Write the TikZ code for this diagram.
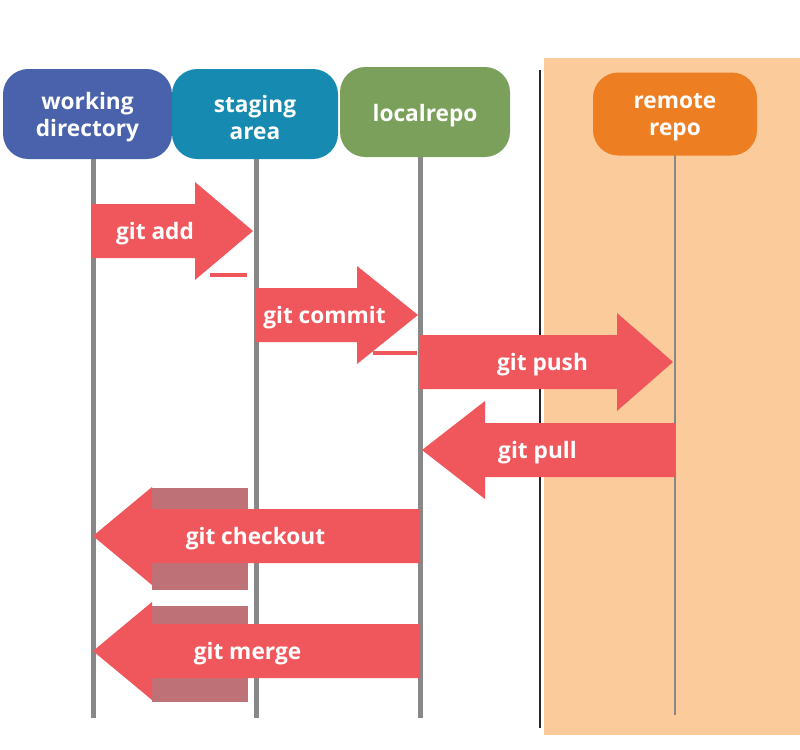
\documentclass[tikz,border=0pt]{standalone}
\usepackage{fontspec}
\setmainfont{Open Sans}
\usetikzlibrary{calc}

\definecolor{wdblue}{RGB}{74,98,172}
\definecolor{sablue}{RGB}{22,138,176}
\definecolor{lrgreen}{RGB}{123,160,91}
\definecolor{rrorange}{RGB}{238,126,34}
\definecolor{peach}{RGB}{251,203,156}
\definecolor{gitred}{RGB}{240,87,93}
\definecolor{fadered}{RGB}{190,114,120}
\definecolor{lifegray}{RGB}{136,136,136}

% block arrow: #1 tail, #2 tip, #3 head base offset from tip, #4 label, #5 label shift
\newcommand{\gitarrow}[5]{%
  \fill[garrow] ($(#1)+(0,-27)$) -- ($(#2)+(#3,-27)$) -- ($(#2)+(#3,-49)$) -- (#2)
    -- ($(#2)+(#3,49)$) -- ($(#2)+(#3,27)$) -- ($(#1)+(0,27)$) -- cycle;
  \node[glabel] at ($(#1)!0.5!(#2)+(#5,3)$) {#4};
}

\begin{document}
\begin{tikzpicture}[
    x=0.75pt, y=-0.75pt,
    box/.style={rounded corners=19pt, minimum height=67.5pt, inner sep=2pt},
    boxtext/.style={text=white, align=center, yshift=-2.5pt,
      font=\bfseries\fontsize{17}{20.5}\selectfont},
    life/.style={lifegray, line width=3.75pt},
    thinlife/.style={lifegray, line width=1.5pt},
    garrow/.style={fill=gitred},
    glabel/.style={text=white, font=\bfseries\fontsize{17}{20.5}\selectfont},
    fade/.style={fill=fadered},
]
\useasboundingbox[fill=white] (0,0) rectangle (800,750);

% ── Remote side ──
\fill[peach] (544,58) rectangle (800,735);
\draw[black!85, line width=1.2pt] (540,70) -- (540,728);

% ── Lifelines ──
\coordinate (wdTop) at (93,150);   \coordinate (wdEnd) at (93,718);
\coordinate (saTop) at (256,150);  \coordinate (saEnd) at (256,718);
\coordinate (lrTop) at (420,150);  \coordinate (lrEnd) at (420,718);
\coordinate (rrTop) at (675,150);  \coordinate (rrEnd) at (675,715);
\draw[life] (wdTop) -- (wdEnd);
\draw[life] (saTop) -- (saEnd);
\draw[life] (lrTop) -- (lrEnd);
\draw[thinlife] (rrTop) -- (rrEnd);

% ── Boxes ──
\node[box, fill=wdblue, minimum width=126.75pt,
  label={[boxtext]center:{working\\directory}}] (wd) at (87.5,114) {};
\node[box, fill=sablue, minimum width=124.5pt,
  label={[boxtext]center:{staging\\area}}] (sa) at (255,114) {};
\node[box, fill=lrgreen, minimum width=127.5pt,
  label={[boxtext]center:{localrepo}}] (lr) at (425,112) {};
\node[box, fill=rrorange, minimum width=123pt, minimum height=62.25pt,
  label={[boxtext]center:{remote\\repo}}] (rr) at (675,114) {};

% ── Shadows ──
\fill[fade] (152,488) rectangle (248,590);
\fill[fade] (152,606) rectangle (248,702);
\fill[garrow] (210,273) rectangle (247,277);
\fill[garrow] (373,351) rectangle (417,355);

% ── Commands ──
\coordinate (addS) at (91,231);   \coordinate (addE) at (253,231);
\coordinate (comS) at (255,315);  \coordinate (comE) at (418,315);
\coordinate (pushS) at (420,362); \coordinate (pushE) at (673,362);
\coordinate (pullS) at (675,450); \coordinate (pullE) at (422,450);
\coordinate (coS) at (420,536);   \coordinate (coE) at (93,536);
\coordinate (mgS) at (420,651);   \coordinate (mgE) at (93,651);

\gitarrow{addS}{addE}{-58}{git add}{-17}
\gitarrow{comS}{comE}{-61}{git commit}{-12}
\gitarrow{pushS}{pushE}{-56}{git push}{-4}
\gitarrow{pullS}{pullE}{63}{git pull}{-11}
\gitarrow{coS}{coE}{59}{git checkout}{-1}
\gitarrow{mgS}{mgE}{59}{git merge}{-9}

\end{tikzpicture}
\end{document}
